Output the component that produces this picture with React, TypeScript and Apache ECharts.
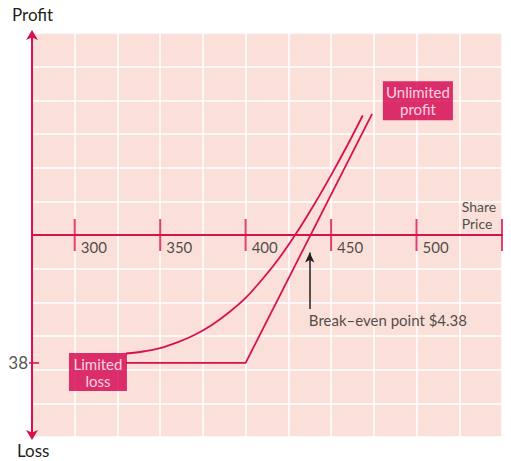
import React, { useEffect, useRef } from "react";
import * as echarts from "echarts";

const RED = "#d9104f";
const BOX = "#d5004f";
const INK = "#231f20";
const FONT = "Lato, 'Noto Sans', sans-serif";

const xTickValues = [300, 350, 400, 450, 500, 550];
const xLabelValues = [300, 350, 400, 450, 500];
const curvePoints: [number, number][] = [
  [330, -35.2], [340, -34.6], [350, -33.6], [360, -31.9], [370, -29.7],
  [380, -26.8], [390, -23.1], [400, -18.7], [410, -13.0], [420, -6.6],
  [430, 0.8], [440, 9.0], [450, 17.8], [460, 27.1], [468.5, 35.5],
];
const payoffPoints: [number, number][] = [[330, -38], [400, -38], [474, 36]];
const lossLevel = -38;
const breakEven = 437.5;
const breakEvenText = "Break–even point $4.38";

export default function App() {
  const ref = useRef<HTMLDivElement>(null);
  useEffect(() => {
    if (!ref.current) return;
    const chart = echarts.init(ref.current, null, { renderer: "svg" });
    chart.setOption({
      animation: false,
      textStyle: { fontFamily: FONT },
      grid: {
        left: 32, right: 9, top: 33, bottom: 24,
        show: true, backgroundColor: "#fbdfd9", borderWidth: 0,
      },
      xAxis: {
        type: "value", min: 275, max: 550, interval: 25,
        axisLine: { onZero: true, lineStyle: { color: RED, width: 2 } },
        axisTick: { show: false },
        splitLine: { show: true, lineStyle: { color: "#ffffff", width: 1.5 } },
        axisLabel: { show: false },
      },
      yAxis: {
        type: "value", min: -60, max: 60, interval: 10,
        axisLine: {
          show: true, onZero: false,
          lineStyle: { color: RED, width: 2 },
          symbol: ["arrow", "arrow"], symbolSize: [9, 10], symbolOffset: [-3, 3],
        },
        axisTick: { show: false },
        axisLabel: { show: false },
        splitLine: { show: true, lineStyle: { color: "#ffffff", width: 1.5 } },
      },
      graphic: [
        { type: "text", left: 12, top: 6, style: { text: "Profit", fill: INK, font: `17px ${FONT}` } },
        { type: "text", left: 17, top: 442, style: { text: "Loss", fill: INK, font: `17px ${FONT}` } },
      ],
      series: [
        {
          type: "scatter", symbol: "rect", symbolSize: [2, 32], z: 3,
          itemStyle: { color: RED }, silent: true,
          data: xTickValues.map((v) => [v, 0]), clip: false,
          label: {
            show: true, position: [7, 20], align: "left", verticalAlign: "top",
            formatter: (p: any) => (xLabelValues.includes(p.value[0]) ? String(p.value[0]) : ""),
            fontSize: 15, color: INK, fontFamily: FONT,
          },
        },
        {
          type: "line", data: curvePoints, smooth: 0.3,
          showSymbol: false, z: 4,
          lineStyle: { color: RED, width: 1.8 }, silent: true,
        },
        {
          type: "line", data: payoffPoints, showSymbol: false, z: 4,
          lineStyle: { color: RED, width: 1.8 }, silent: true,
        },
        {
          type: "scatter", symbol: "rect", symbolSize: [10, 2], z: 5, clip: false,
          itemStyle: { color: RED }, silent: true,
          data: [[276.2, lossLevel]],
          label: {
            show: true, position: "left", distance: 1,
            formatter: () => String(Math.abs(lossLevel)),
            fontSize: 17, color: INK, fontFamily: FONT,
          },
        },
        {
          type: "scatter", symbolSize: 0, z: 6, silent: true,
          data: [[breakEven - 0.5, -25.2]],
          label: {
            show: true, position: "right", distance: 0,
            formatter: () => breakEvenText, fontSize: 15, color: INK, fontFamily: FONT,
          },
          markLine: {
            silent: true, symbol: ["none", "arrow"], symbolSize: [7, 10],
            lineStyle: { color: INK, width: 1.5, type: "solid" },
            label: { show: false },
            data: [[{ coord: [breakEven, -22] }, { coord: [breakEven, -5.2] }]],
          },
        },
        {
          type: "scatter", symbolSize: 0, z: 6, silent: true, clip: false,
          data: [[526.4, 6]],
          label: {
            show: true, position: "right", distance: 0,
            formatter: () => "Share\nPrice", fontSize: 14, lineHeight: 17,
            color: INK, fontFamily: FONT,
          },
        },
        {
          type: "scatter", symbolSize: 0, z: 8, silent: true,
          data: [
            { value: [500.8, 39.9], name: "Unlimited\nprofit", w: 70, h: 39 },
            { value: [313.6, -40.7], name: "Limited\nloss", w: 58, h: 38 },
          ].map((d) => ({
            value: d.value, name: d.name,
            label: { width: d.w, height: d.h },
          })),
          label: {
            show: true, position: "inside", formatter: (p: any) => p.name,
            backgroundColor: BOX, color: "#ffffff", fontSize: 15, lineHeight: 17,
            align: "center", verticalAlign: "middle", fontFamily: FONT,
          },
        },
      ],
    });
    return () => chart.dispose();
  }, []);
  return (
    <div
      ref={ref}
      style={{ position: "absolute", left: 0, top: 0, width: 511, height: 461, background: "#ffffff" }}
    />
  );
}
